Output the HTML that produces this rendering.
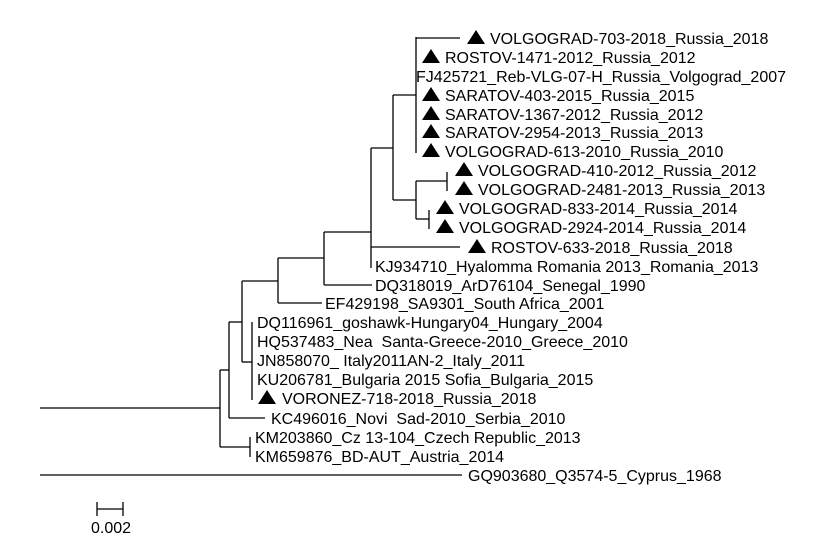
<!DOCTYPE html>
<html><head><meta charset="utf-8"><style>
html,body{margin:0;padding:0;background:#fff;width:831px;height:542px;overflow:hidden}
text{font-family:"Liberation Sans",Arial,sans-serif;font-size:16px;fill:#000}
</style></head><body>
<svg width="831" height="542" viewBox="0 0 831 542" xmlns="http://www.w3.org/2000/svg">
<g stroke="#000" stroke-width="1.3" fill="none">
<!-- root -->
<line x1="40" y1="408" x2="220" y2="408"/>
<line x1="40" y1="475" x2="462" y2="475"/>
<line x1="220" y1="370" x2="220" y2="447"/>
<line x1="220" y1="370" x2="229" y2="370"/>
<line x1="220" y1="447" x2="250" y2="447"/>
<line x1="250" y1="437" x2="250" y2="457"/>
<line x1="229" y1="322" x2="229" y2="418"/>
<line x1="229" y1="418" x2="265" y2="418"/>
<line x1="229" y1="322" x2="242" y2="322"/>
<line x1="242" y1="281" x2="242" y2="362"/>
<line x1="242" y1="362" x2="252" y2="362"/>
<line x1="252" y1="322" x2="252" y2="400"/>
<line x1="242" y1="281" x2="278" y2="281"/>
<line x1="278" y1="258" x2="278" y2="303"/>
<line x1="278" y1="303" x2="322" y2="303"/>
<line x1="278" y1="258" x2="324" y2="258"/>
<line x1="324" y1="232" x2="324" y2="285"/>
<line x1="324" y1="285" x2="372" y2="285"/>
<line x1="324" y1="232" x2="371" y2="232"/>
<line x1="371" y1="148" x2="371" y2="268"/>
<line x1="371" y1="247" x2="460" y2="247"/>
<line x1="371" y1="148" x2="393" y2="148"/>
<line x1="393" y1="95" x2="393" y2="200"/>
<line x1="393" y1="95" x2="416" y2="95"/>
<line x1="416" y1="37" x2="416" y2="153"/>
<line x1="416" y1="38" x2="460" y2="38"/>
<line x1="393" y1="200" x2="416" y2="200"/>
<line x1="416" y1="181" x2="416" y2="219"/>
<line x1="416" y1="181" x2="447" y2="181"/>
<line x1="447" y1="172" x2="447" y2="191"/>
<line x1="416" y1="219" x2="429" y2="219"/>
<line x1="429" y1="210" x2="429" y2="229"/>
<!-- scale -->
<line x1="97" y1="509" x2="123" y2="509"/>
<line x1="97" y1="502" x2="97" y2="516"/>
<line x1="123" y1="502" x2="123" y2="516"/>
</g>
<g fill="#000">
<polygon points="467,44 485,44 476,30"/>
<polygon points="422,63 440,63 431,49"/>
<polygon points="422,101 440,101 431,87"/>
<polygon points="422,120 440,120 431,106"/>
<polygon points="422,138 440,138 431,124"/>
<polygon points="422,157 440,157 431,143"/>
<polygon points="455,176 473,176 464,162"/>
<polygon points="455,195 473,195 464,181"/>
<polygon points="436,214 454,214 445,200"/>
<polygon points="436,233 454,233 445,219"/>
<polygon points="468,253 486,253 477,239"/>
<polygon points="258,404 276,404 267,390"/>
</g>
<text x="490" y="44">VOLGOGRAD-703-2018_Russia_2018</text>
<text x="445" y="63">ROSTOV-1471-2012_Russia_2012</text>
<text x="416" y="82">FJ425721_Reb-VLG-07-H_Russia_Volgograd_2007</text>
<text x="445" y="101">SARATOV-403-2015_Russia_2015</text>
<text x="445" y="120">SARATOV-1367-2012_Russia_2012</text>
<text x="445" y="138">SARATOV-2954-2013_Russia_2013</text>
<text x="445" y="157">VOLGOGRAD-613-2010_Russia_2010</text>
<text x="478" y="176">VOLGOGRAD-410-2012_Russia_2012</text>
<text x="478" y="195">VOLGOGRAD-2481-2013_Russia_2013</text>
<text x="459" y="214">VOLGOGRAD-833-2014_Russia_2014</text>
<text x="459" y="233">VOLGOGRAD-2924-2014_Russia_2014</text>
<text x="491" y="253">ROSTOV-633-2018_Russia_2018</text>
<text x="375" y="272">KJ934710_Hyalomma Romania 2013_Romania_2013</text>
<text x="375" y="291">DQ318019_ArD76104_Senegal_1990</text>
<text x="325" y="309">EF429198_SA9301_South Africa_2001</text>
<text x="257" y="328">DQ116961_goshawk-Hungary04_Hungary_2004</text>
<text x="257" y="347">HQ537483_Nea&#160;&#160;Santa-Greece-2010_Greece_2010</text>
<text x="257" y="366">JN858070_&#160;Italy2011AN-2_Italy_2011</text>
<text x="257" y="385">KU206781_Bulgaria 2015 Sofia_Bulgaria_2015</text>
<text x="282" y="404">VORONEZ-718-2018_Russia_2018</text>
<text x="271" y="424">KC496016_Novi&#160;&#160;Sad-2010_Serbia_2010</text>
<text x="255" y="443">KM203860_Cz 13-104_Czech Republic_2013</text>
<text x="255" y="462">KM659876_BD-AUT_Austria_2014</text>
<text x="468" y="481">GQ903680_Q3574-5_Cyprus_1968</text>
<text x="91" y="533">0.002</text>
</svg>
</body></html>
